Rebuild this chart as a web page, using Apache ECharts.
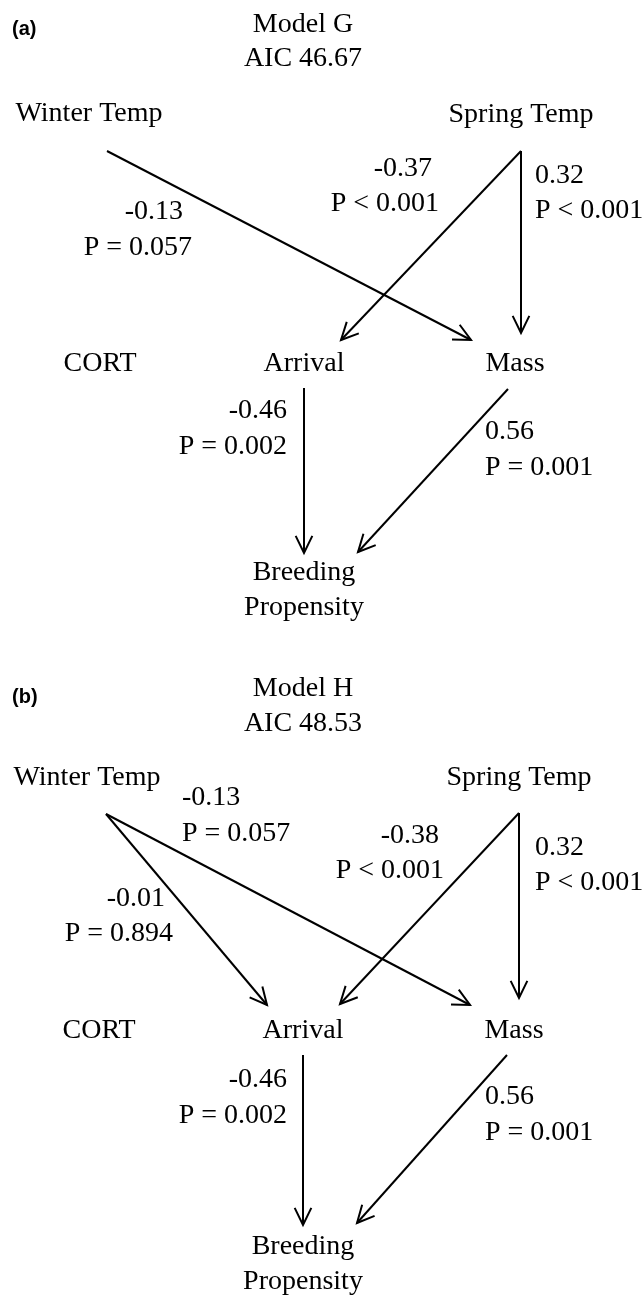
<!DOCTYPE html>
<html><head><meta charset="utf-8">
<script src="https://cdn.jsdelivr.net/npm/echarts@6/dist/echarts.min.js"></script>
<style>html,body{margin:0;padding:0;background:#fff}#c{width:644px;height:1297px}</style>
</head><body><div id="c"></div>
<script>
// ---------------- data ----------------
const panelTags = ['(a)', '(b)'];
const modelNames = ['Model G', 'Model H'];
const aicValues = ['46.67', '48.53'];
const nodeNames = ['Winter Temp', 'Spring Temp', 'CORT', 'Arrival', 'Mass', 'Breeding\nPropensity'];

// panel (a): path coefficients
const pathFromA = ['Winter Temp', 'Spring Temp', 'Spring Temp', 'Arrival', 'Mass'];
const pathToA   = ['Mass', 'Arrival', 'Mass', 'Breeding\nPropensity', 'Breeding\nPropensity'];
const coefA = [-0.13, -0.37, 0.32, -0.46, 0.56];
const pValA = ['P = 0.057', 'P < 0.001', 'P < 0.001', 'P = 0.002', 'P = 0.001'];

// panel (b): path coefficients
const pathFromB = ['Winter Temp', 'Winter Temp', 'Spring Temp', 'Spring Temp', 'Arrival', 'Mass'];
const pathToB   = ['Mass', 'Arrival', 'Arrival', 'Mass', 'Breeding\nPropensity', 'Breeding\nPropensity'];
const coefB = [-0.13, -0.01, -0.38, 0.32, -0.46, 0.56];
const pValB = ['P = 0.057', 'P = 0.894', 'P < 0.001', 'P < 0.001', 'P = 0.002', 'P = 0.001'];

// ---------------- layout (diagram units on a 644 x 1297 plane; text y = baseline) ----------------
const layoutA = {
  tag: [12, 29], title: [303, 34], aic: [303, 68],
  nodes: { 'Winter Temp': [89, 123], 'Spring Temp': [521, 124], 'CORT': [100, 373], 'Arrival': [304, 373], 'Mass': [515, 373], 'Breeding\nPropensity': [304, 582] },
  arrows: [[107, 151, 471, 340], [521, 151, 341, 340], [521, 151, 521, 333], [304, 388, 304, 553], [508, 389, 358, 552]],
  labels: [['right', 183, 221, 192, 257], ['right', 432, 178, 439, 213], ['left', 535, 185, 535, 220], ['right', 287, 420, 287, 456], ['left', 485, 441, 485, 477]]
};
const layoutB = {
  tag: [12, 697], title: [303, 698], aic: [303, 733],
  nodes: { 'Winter Temp': [87, 787], 'Spring Temp': [519, 787], 'CORT': [99, 1040], 'Arrival': [303, 1040], 'Mass': [514, 1040], 'Breeding\nPropensity': [303, 1256] },
  arrows: [[106, 814, 470, 1005], [106, 814, 267, 1005], [519, 813, 340, 1004], [519, 813, 519, 998], [303, 1055, 303, 1225], [507, 1055, 357, 1223]],
  labels: [['left', 182, 807, 182, 843], ['right', 165, 908, 173, 943], ['right', 439, 845, 444, 880], ['left', 535, 857, 535, 892], ['right', 287, 1089, 287, 1125], ['left', 485, 1106, 485, 1142]]
};

// ---------------- build ----------------
const SERIF = "'Liberation Serif', 'Times New Roman', serif";
const FS = 28, LH = 35;
const textItems = [];
const arrowItems = [];

function addText(text, x, baseY, align, font, size, lh) {
  const lines = text.split('\n').length;
  textItems.push({ value: [x, baseY], text, align, font, shift: 0.3375 * size, extra: (lines - 1) * lh / 2, lh });
}

const panels = [
  { lay: layoutA, from: pathFromA, to: pathToA, coef: coefA, p: pValA },
  { lay: layoutB, from: pathFromB, to: pathToB, coef: coefB, p: pValB }
];
panels.forEach((pn, i) => {
  const L = pn.lay;
  textItems.push({ value: [L.tag[0], L.tag[1]], text: panelTags[i], align: 'left', font: "bold 20px 'Liberation Sans', Arial, sans-serif", shift: 0, extra: 0, lh: 22 });
  addText(modelNames[i], L.title[0], L.title[1], 'center', FS + 'px ' + SERIF, FS, LH);
  addText('AIC ' + aicValues[i], L.aic[0], L.aic[1], 'center', FS + 'px ' + SERIF, FS, LH);
  nodeNames.forEach(n => {
    const pos = L.nodes[n];
    addText(n, pos[0], pos[1], 'center', FS + 'px ' + SERIF, FS, LH);
  });
  pn.coef.forEach((c, k) => {
    const g = L.arrows[k];
    arrowItems.push({ value: g, name: pn.from[k] + ' → ' + pn.to[k] });
    const lb = L.labels[k];
    addText(c.toFixed(2), lb[1], lb[2], lb[0], FS + 'px ' + SERIF, FS, LH);
    addText(pn.p[k], lb[3], lb[4], lb[0], FS + 'px ' + SERIF, FS, LH);
  });
});

const chart = echarts.init(document.getElementById('c'), null, { renderer: 'canvas' });
chart.setOption({
  animation: false,
  backgroundColor: '#ffffff',
  grid: { left: 0, right: 0, top: 0, bottom: 0 },
  xAxis: { type: 'value', min: 0, max: 644, show: false },
  yAxis: { type: 'value', min: 0, max: 1297, inverse: true, show: false },
  series: [
    {
      type: 'custom',
      coordinateSystem: 'cartesian2d',
      data: arrowItems,
      encode: { x: [0, 2], y: [1, 3] },
      silent: true,
      renderItem: function (params, api) {
        const p1 = api.coord([api.value(0), api.value(1)]);
        const p2 = api.coord([api.value(2), api.value(3)]);
        const ang = Math.atan2(p2[1] - p1[1], p2[0] - p1[0]);
        const len = 19, a = 26 * Math.PI / 180;
        const b1 = [p2[0] - len * Math.cos(ang - a), p2[1] - len * Math.sin(ang - a)];
        const b2 = [p2[0] - len * Math.cos(ang + a), p2[1] - len * Math.sin(ang + a)];
        return {
          type: 'group',
          children: [
            { type: 'line', shape: { x1: p1[0], y1: p1[1], x2: p2[0], y2: p2[1] }, style: { stroke: '#000', lineWidth: 2 } },
            { type: 'polyline', shape: { points: [b1, p2, b2] }, style: { stroke: '#000', fill: null, lineWidth: 2, lineJoin: 'miter' } }
          ]
        };
      }
    },
    {
      type: 'custom',
      coordinateSystem: 'cartesian2d',
      data: textItems.map(t => t.value),
      encode: { x: 0, y: 1 },
      silent: true,
      renderItem: function (params, api) {
        const t = textItems[params.dataIndex];
        const p = api.coord([api.value(0), api.value(1)]);
        return {
          type: 'text',
          x: p[0],
          y: p[1] - t.shift + t.extra,
          style: { text: t.text, font: t.font, fill: '#000', align: t.align, verticalAlign: 'middle', lineHeight: t.lh }
        };
      }
    }
  ]
});
</script>
</body></html>
